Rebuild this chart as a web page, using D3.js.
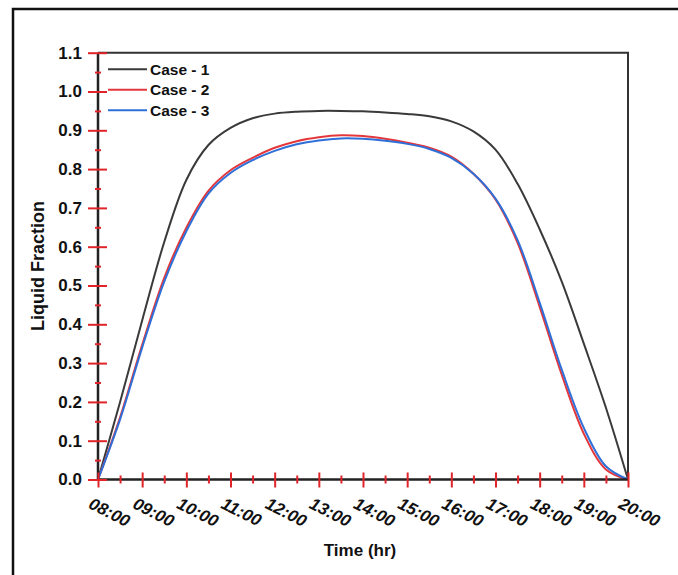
<!DOCTYPE html>
<html>
<head>
<meta charset="utf-8">
<script src="https://cdn.jsdelivr.net/npm/d3@7"></script>
<style>
  body { margin: 0; background: #fff; }
  svg { display: block; font-family: 'Liberation Sans', Arial, sans-serif; }
  .axis path { display: none; }
  .axis text { font-weight: bold; fill: #111; }
</style>
</head>
<body>
<div id="chart"></div>
<script>
const W = 678
const H = 575

// time in hours, half-hour steps from 08:00 to 20:00
const hours = [8, 8.5, 9, 9.5, 10, 10.5, 11, 11.5, 12, 12.5, 13, 13.5, 14, 14.5, 15, 15.5, 16, 16.5, 17, 17.5, 18, 18.5, 19, 19.5, 20]

const case1 = [0, 0.20, 0.41, 0.612, 0.772, 0.862, 0.906, 0.931, 0.943, 0.948, 0.95, 0.95, 0.949, 0.946, 0.942, 0.936, 0.923, 0.897, 0.85, 0.762, 0.645, 0.51, 0.35, 0.185, 0]
const case2 = [0, 0.16, 0.347, 0.52, 0.649, 0.744, 0.797, 0.829, 0.855, 0.872, 0.882, 0.887, 0.885, 0.878, 0.868, 0.855, 0.832, 0.788, 0.722, 0.61, 0.445, 0.27, 0.118, 0.026, 0]
const case3 = [0, 0.155, 0.34, 0.51, 0.64, 0.737, 0.79, 0.823, 0.847, 0.864, 0.874, 0.879, 0.878, 0.873, 0.865, 0.852, 0.829, 0.788, 0.724, 0.617, 0.456, 0.283, 0.133, 0.034, 0]

const seriesNames = ['Case - 1', 'Case - 2', 'Case - 3']
const seriesColors = ['#3a3a3a', '#e4373c', '#2f6fd8']

const yTicks = [0, 0.1, 0.2, 0.3, 0.4, 0.5, 0.6, 0.7, 0.8, 0.9, 1.0, 1.1]
const yMinor = [0.05, 0.15, 0.25, 0.35, 0.45, 0.55, 0.65, 0.75, 0.85, 0.95, 1.05]
const xTicks = [8, 9, 10, 11, 12, 13, 14, 15, 16, 17, 18, 19, 20]
const xMinor = [8.5, 9.5, 10.5, 11.5, 12.5, 13.5, 14.5, 15.5, 16.5, 17.5, 18.5, 19.5]

const margin = { left: 98, right: 50, top: 52.7, bottom: 95.5 }
const iw = W - margin.left - margin.right
const ih = H - margin.top - margin.bottom
const font = "'Liberation Sans', Arial, sans-serif"

const svg = d3.select('#chart').append('svg')
  .attr('width', W)
  .attr('height', H)

// outer frame (only left and top edges are inside the picture)
svg.append('path')
  .attr('d', `M13,${H + 5}V9H${W + 5}`)
  .attr('fill', 'none')
  .attr('stroke', '#111')
  .attr('stroke-width', 2.5)

const g = svg.append('g').attr('transform', `translate(${margin.left},${margin.top})`)

const x = d3.scaleLinear().domain([8, 20]).range([0, iw])
const y = d3.scaleLinear().domain([0, 1.1]).range([ih, 0])

// plot box top and right
g.append('path')
  .attr('d', `M0,0H${iw}V${ih}`)
  .attr('fill', 'none')
  .attr('stroke', '#333')
  .attr('stroke-width', 2)

// curves
const line = d3.line()
  .x((d, i) => x(hours[i]))
  .y(d => y(d))
  .curve(d3.curveCatmullRom.alpha(0.5))

const allSeries = [case1, case2, case3]
allSeries.forEach((s, k) => {
  g.append('path')
    .datum(s)
    .attr('d', line)
    .attr('fill', 'none')
    .attr('stroke', seriesColors[k])
    .attr('stroke-width', 2)
})

// axis lines
g.append('line')
  .attr('x1', 0).attr('x2', 0).attr('y1', 0).attr('y2', ih)
  .attr('stroke', '#222').attr('stroke-width', 2.5)
g.append('line')
  .attr('x1', 0).attr('x2', iw).attr('y1', ih).attr('y2', ih)
  .attr('stroke', '#222').attr('stroke-width', 2.5)

const red = '#e0242a'

// y axis
const yAxis = g.append('g').attr('class', 'axis')
  .call(d3.axisLeft(y).tickValues(yTicks).tickFormat(d3.format('.1f')).tickSize(10).tickPadding(6))
  .attr('font-family', font)
yAxis.selectAll('.tick line').attr('x1', 9).attr('x2', -10).attr('stroke', red).attr('stroke-width', 2)
yAxis.selectAll('.tick text').style('font-size', '17px')

const yAxisMinor = g.append('g').attr('class', 'axis')
  .call(d3.axisLeft(y).tickValues(yMinor).tickFormat('').tickSize(3))
yAxisMinor.selectAll('.tick line').attr('x1', 3).attr('x2', -3).attr('stroke', red).attr('stroke-width', 2)

// x axis
const fmtHour = d => String(d).padStart(2, '0') + ':00'
const xAxis = g.append('g').attr('class', 'axis')
  .attr('transform', `translate(0,${ih})`)
  .call(d3.axisBottom(x).tickValues(xTicks).tickFormat(fmtHour).tickSize(8))
  .attr('font-family', font)
xAxis.selectAll('.tick line').attr('y1', -7).attr('y2', 8).attr('stroke', red).attr('stroke-width', 2)
xAxis.selectAll('.tick text')
  .attr('x', 0).attr('y', 0).attr('dy', 0)
  .attr('text-anchor', 'start')
  .attr('transform', 'translate(-11,28) rotate(27)')
  .style('font-size', '17px')
  .style('font-style', 'italic')

const xAxisMinor = g.append('g').attr('class', 'axis')
  .attr('transform', `translate(0,${ih})`)
  .call(d3.axisBottom(x).tickValues(xMinor).tickFormat('').tickSize(4))
xAxisMinor.selectAll('.tick line').attr('y1', -4).attr('y2', 4).attr('stroke', red).attr('stroke-width', 2)

// axis titles
svg.append('text')
  .attr('x', 360)
  .attr('y', 556)
  .attr('text-anchor', 'middle')
  .style('font-size', '17px')
  .style('font-weight', 'bold')
  .attr('fill', '#111')
  .text('Time (hr)')

svg.append('text')
  .attr('transform', `translate(44,${margin.top + ih / 2}) rotate(-90)`)
  .attr('text-anchor', 'middle')
  .style('font-size', '18px')
  .style('font-weight', 'bold')
  .attr('fill', '#111')
  .text('Liquid Fraction')

// legend
const legend = g.selectAll('.legend')
  .data(seriesNames)
  .enter()
  .append('g')
  .attr('class', 'legend')
  .attr('transform', (d, i) => `translate(0,${16.5 + i * 20.5})`)

legend.append('line')
  .attr('x1', 10).attr('x2', 49)
  .attr('stroke', (d, i) => seriesColors[i])
  .attr('stroke-width', 2)

legend.append('text')
  .attr('x', 52)
  .attr('dy', '0.36em')
  .style('font-size', '15.5px')
  .style('font-weight', 'bold')
  .attr('fill', '#111')
  .text(d => d)
</script>
</body>
</html>
